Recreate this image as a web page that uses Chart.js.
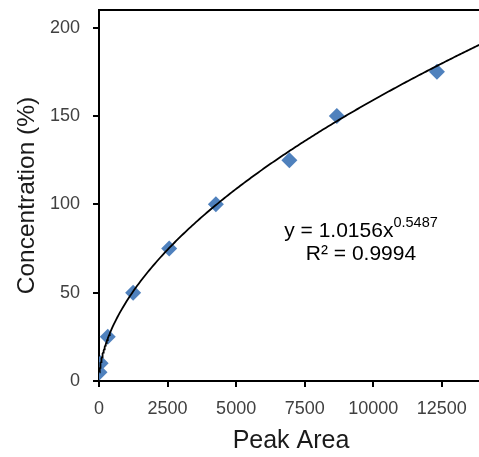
<!DOCTYPE html>
<html>
<head>
<meta charset="utf-8">
<script src="https://cdn.jsdelivr.net/npm/chart.js@4"></script>
<style>
  html, body { margin: 0; padding: 0; background: #fff; overflow: hidden; }
  body { width: 479px; height: 457px; }
  #wrap { width: 483px; height: 457px; position: relative; }
  canvas { display: block; }
</style>
</head>
<body>
<div id="wrap"><canvas id="chart" width="483" height="457"></canvas></div>
<script>
// Calibration points: peak area vs. known concentration
const peakArea = [18, 60, 320, 1245, 2560, 4260, 6940, 8670, 12320];
const concentration = [5, 10, 25, 50, 75, 100, 125, 150, 175];

// Axis ticks
const xTicks = [0, 2500, 5000, 7500, 10000, 12500];
const yTicks = [0, 50, 100, 150, 200];
const xRange = [0, 14000];
const yRange = [0, 210];

// Power-law fit  y = a * x^b
const fitA = 1.0156;
const fitB = 0.5487;
const fitR2 = 0.9994;

// Trendline sampled from the fitted equation, from the smallest peak area to the axis end
const fitPoints = [];
{
  const x0 = Math.min(...peakArea), x1 = xRange[1];
  // dense near the origin where the curve bends sharply
  for (let i = 0; i <= 60; i++) {
    const x = x0 * Math.pow(1000 / x0, i / 60);
    fitPoints.push({ x, y: fitA * Math.pow(x, fitB) });
  }
  for (let i = 1; i <= 200; i++) {
    const x = 1000 + (x1 - 1000) * i / 200;
    fitPoints.push({ x, y: fitA * Math.pow(x, fitB) });
  }
}

const TEXT = '#404040';
const FONT = "'Liberation Sans', Arial, sans-serif";

const keepTicks = (list) => (scale) => {
  scale.ticks = list.map(v => ({ value: v }));
};

const fixBox = (dim) => (scale) => {
  if (dim.width !== undefined) scale.width = dim.width;
  if (dim.height !== undefined) scale.height = dim.height;
  scale.paddingTop = scale.paddingBottom = scale.paddingLeft = scale.paddingRight = 0;
};

// Top frame line across the plot
const topFrame = {
  id: 'topFrame',
  afterDraw(chart) {
    const { ctx, chartArea } = chart;
    ctx.save();
    ctx.fillStyle = '#000';
    ctx.fillRect(chartArea.left - 1, chartArea.top - 1, chart.width - chartArea.left + 1, 2);
    ctx.restore();
  }
};

// Fit equation and R² label
const fitLabel = {
  id: 'fitLabel',
  afterDraw(chart) {
    const { ctx } = chart;
    const cx = 361;
    const main = 'y = ' + fitA.toFixed(4) + 'x';
    const sup = fitB.toFixed(4);
    const r2 = 'R\u00B2 = ' + fitR2.toFixed(4);
    ctx.save();
    ctx.fillStyle = '#000';
    ctx.textBaseline = 'alphabetic';
    ctx.textAlign = 'left';
    ctx.font = '21px ' + FONT;
    const wMain = ctx.measureText(main).width;
    ctx.font = '14.5px ' + FONT;
    const wSup = ctx.measureText(sup).width;
    const left = cx - (wMain + wSup) / 2;
    ctx.font = '21px ' + FONT;
    ctx.fillText(main, left, 237);
    ctx.font = '14.5px ' + FONT;
    ctx.fillText(sup, left + wMain, 226.5);
    ctx.font = '21px ' + FONT;
    ctx.textAlign = 'center';
    ctx.fillText(r2, cx, 260);
    ctx.restore();
  }
};

new Chart(document.getElementById('chart'), {
  type: 'scatter',
  data: {
    datasets: [
      {
        label: 'Power fit',
        data: fitPoints,
        showLine: true,
        borderColor: '#000',
        borderWidth: 1.8,
        pointRadius: 0,
        pointHoverRadius: 0,
        tension: 0,
        order: 0
      },
      {
        label: 'Concentration',
        data: peakArea.map((x, i) => ({ x, y: concentration[i] })),
        pointStyle: 'rectRot',
        pointRadius: 8,
        pointHoverRadius: 8,
        backgroundColor: '#4F81BD',
        borderColor: '#4F81BD',
        borderWidth: 0,
        showLine: false,
        order: 1
      }
    ]
  },
  options: {
    responsive: false,
    maintainAspectRatio: false,
    animation: false,
    devicePixelRatio: 1,
    layout: { autoPadding: false, padding: { left: 0, right: 0, top: 10, bottom: 0 } },
    plugins: { legend: { display: false }, tooltip: { enabled: false } },
    scales: {
      x: {
        type: 'linear',
        min: xRange[0],
        max: xRange[1],
        afterBuildTicks: keepTicks(xTicks),
        afterFit: fixBox({ height: 76 }),
        border: { display: true, color: '#000', width: 2 },
        grid: { display: true, drawOnChartArea: false, drawTicks: true, tickLength: 6, color: '#000', lineWidth: 2 },
        ticks: { color: TEXT, font: { family: FONT, size: 18 }, padding: 11, maxRotation: 0, autoSkip: false,
                 callback: (v) => String(v) },
        title: { display: true, text: 'Peak Area', color: '#1a1a1a', font: { family: FONT, size: 25 }, padding: { top: 0, bottom: 1 } }
      },
      y: {
        type: 'linear',
        min: yRange[0],
        max: yRange[1],
        afterBuildTicks: keepTicks(yTicks),
        afterFit: fixBox({ width: 99 }),
        border: { display: true, color: '#000', width: 2 },
        grid: { display: true, drawOnChartArea: false, drawTicks: true, tickLength: 6, color: '#000', lineWidth: 2 },
        ticks: { color: TEXT, font: { family: FONT, size: 18 }, padding: 13, callback: (v) => String(v) },
        title: { display: true, text: 'Concentration (%)', color: '#1a1a1a', font: { family: FONT, size: 24.5 }, padding: { top: 12.5, bottom: 0 } }
      }
    }
  },
  plugins: [topFrame, fitLabel]
});
</script>
</body>
</html>
